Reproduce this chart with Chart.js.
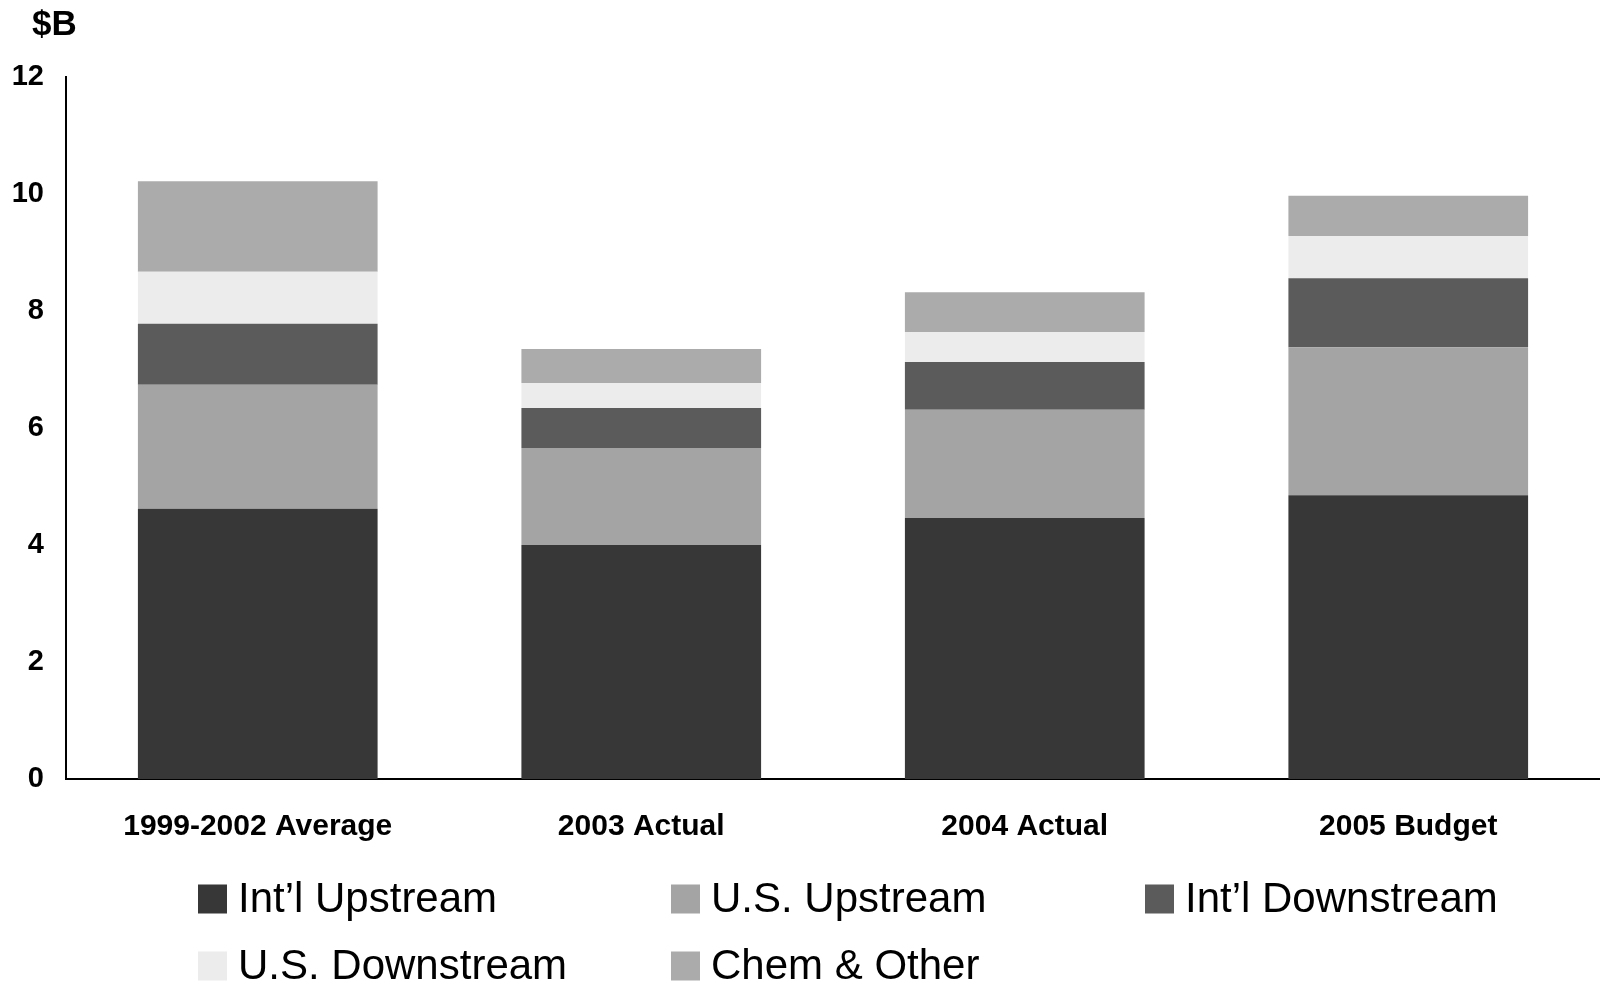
<!DOCTYPE html>
<html>
<head>
<meta charset="utf-8">
<script src="https://cdn.jsdelivr.net/npm/chart.js@4/dist/chart.umd.min.js"></script>
<style>
  html, body { margin: 0; padding: 0; background: #fff; }
  #wrap { width: 1600px; height: 983px; position: relative; }
</style>
</head>
<body>
<div id="wrap"><canvas id="capexChart"></canvas></div>
<script>
// categories and stacked series ($B)
var categories = ['1999-2002 Average', '2003 Actual', '2004 Actual', '2005 Budget'];
var intlUpstream   = [4.62, 4.00, 4.46, 4.85];
var usUpstream     = [2.12, 1.66, 1.85, 2.53];
var intlDownstream = [1.04, 0.68, 0.82, 1.18];
var usDownstream   = [0.89, 0.43, 0.51, 0.72];
var chemOther      = [1.55, 0.58, 0.68, 0.69];
var yTicks = [0, 2, 4, 6, 8, 10, 12];
var unitLabel = '$B';

var seriesNames  = ["Int\u2019l Upstream", 'U.S. Upstream', "Int\u2019l Downstream", 'U.S. Downstream', 'Chem & Other'];
var seriesValues = [intlUpstream, usUpstream, intlDownstream, usDownstream, chemOther];
var seriesColors = ['#373737', '#a4a4a4', '#5b5b5b', '#ececec', '#ababab'];

var datasets = [];
for (var i = 0; i < seriesNames.length; i++) {
    datasets.push({
        label: seriesNames[i],
        data: seriesValues[i],
        backgroundColor: seriesColors[i],
        borderWidth: 0,
        barPercentage: 0.625,
        categoryPercentage: 1.0
    });
}

// unit label top-left and a legend laid out in fixed columns like the original slide
var slideExtras = {
    id: 'slideExtras',
    afterDraw: function (chart, args, opts) {
        var ctx = chart.ctx;
        ctx.save();
        ctx.fillStyle = '#000';
        ctx.textAlign = 'left';
        ctx.textBaseline = 'middle';
        ctx.font = opts.unitFont;
        ctx.fillText(opts.unit, opts.unitX, opts.unitY);

        ctx.font = opts.font;
        chart.data.datasets.forEach(function (ds, idx) {
            var col = idx % opts.columns.length;
            var row = Math.floor(idx / opts.columns.length);
            var x = opts.columns[col];
            var y = opts.rows[row];
            ctx.fillStyle = ds.backgroundColor;
            ctx.fillRect(x, y - opts.box / 2, opts.box, opts.box);
            ctx.fillStyle = '#000';
            ctx.fillText(ds.label, x + opts.box + opts.gap, y + 1);
        });
        ctx.restore();
    }
};

var ctx = document.getElementById('capexChart').getContext('2d');
var myChart = new Chart(ctx, {
    type: 'bar',
    data: {
        labels: categories,
        datasets: datasets
    },
    options: {
        responsive: true,
        maintainAspectRatio: false,
        animation: false,
        layout: {
            padding: { left: 0, right: -4, top: 77, bottom: 134 }
        },
        plugins: {
            legend: { display: false },
            tooltip: { enabled: false },
            slideExtras: {
                unit: unitLabel,
                unitX: 32,
                unitY: 25,
                unitFont: 'bold 35px "Liberation Sans", Arial, sans-serif',
                columns: [198, 671, 1145],
                rows: [899, 966],
                box: 29,
                gap: 11,
                font: '42px "Liberation Sans", Arial, sans-serif'
            }
        },
        scales: {
            x: {
                stacked: true,
                grid: { display: false, drawTicks: false },
                border: { display: true, color: '#000', width: 2 },
                ticks: {
                    color: '#000',
                    padding: 30,
                    maxRotation: 0,
                    font: { family: 'Liberation Sans, Arial, sans-serif', size: 30, weight: 'bold' }
                },
                afterFit: function (scale) { scale.height = 70; }
            },
            y: {
                stacked: true,
                min: yTicks[0],
                max: yTicks[yTicks.length - 1],
                afterBuildTicks: function (scale) {
                    scale.ticks = yTicks.map(function (v) { return { value: v }; });
                },
                grid: { display: false, drawTicks: false },
                border: { display: true, color: '#000', width: 2 },
                ticks: {
                    color: '#000',
                    padding: 22,
                    font: { family: 'Liberation Sans, Arial, sans-serif', size: 29, weight: 'bold' }
                },
                afterFit: function (scale) { scale.width = 66; }
            }
        }
    },
    plugins: [slideExtras]
});
</script>
</body>
</html>
